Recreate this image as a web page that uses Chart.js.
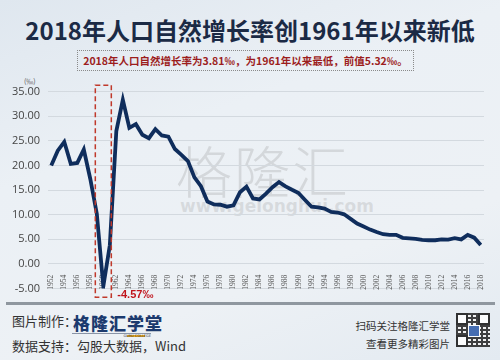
<!DOCTYPE html>
<html>
<head>
<meta charset="utf-8">
<script src="https://cdn.jsdelivr.net/npm/chart.js@4.4.0/dist/chart.umd.min.js"></script>
<style>
    body { margin: 0; }
    #page {
        position: relative; width: 500px; height: 360px; overflow: hidden;
        background: linear-gradient(160deg, #dfe7ef 0%, #ebf0f5 35%, #edf1f5 70%, #e3eaf1 100%);
        font-family: "Noto Sans CJK SC", "Noto Sans", sans-serif;
    }
    .title {
        position: absolute; top: 12px; left: 0; width: 500px; text-align: center;
        font-size: 24px; font-weight: bold; color: #1b2a45;
    }
    .sub {
        position: absolute; top: 50px; left: 77px; width: 335px; height: 19px;
        border: 1px dotted #8a8a8a; text-align: center;
        font-size: 10.5px; line-height: 19px; color: #9c1d1d; font-weight: bold;
    }
    .unit { position: absolute; top: 76px; left: 24px; font-size: 7px; color: #555; }
    .wm { position: absolute; left: 176px; top: 128px; font-size: 56px; color: rgba(150,150,150,0.28); font-weight: 300; letter-spacing: 2px; }
    .wm2 { position: absolute; left: 180px; top: 196px; font-size: 17px; color: rgba(150,150,150,0.25); font-family: "DejaVu Sans", sans-serif; font-weight: bold; }
    #wrap { position: absolute; left: 0; top: 77px; width: 496px; height: 226px; }
    .rule { position: absolute; left: 6px; top: 302px; width: 489px; height: 3px; background: #8f979f; }
    .foot { position: absolute; font-size: 13px; color: #333; }
    .logo { position: absolute; left: 73px; top: 310px; font-size: 17px; font-weight: 900; color: #1c3a6e; letter-spacing: 1px; }
    .logo em { font-style: normal; border-bottom: 2px solid #e7a81f; }
    .guru { position: absolute; left: 72px; top: 333px; width: 79px; border-top: 1px solid #8a94a6; font-size: 3.5px; text-align: right; color: #334; font-family: "DejaVu Sans"; }
    .rt { position: absolute; right: 50px; font-size: 10.5px; color: #333; text-align: right; }
    .qr { position: absolute; left: 456px; top: 313px; width: 34px; height: 34px;
        background:
            repeating-linear-gradient(90deg, #222 0 2px, transparent 2px 5px),
            repeating-linear-gradient(0deg, #222 0 2px, #f2f2f2 2px 4px);
        opacity: 0.85; }
    .qr i { position: absolute; width: 8px; height: 8px; border: 2px solid #111; background: #fff; }
    .qr b { position: absolute; left: 12px; top: 12px; width: 10px; height: 10px; background: #2a58a8; border: 1px solid #fff; }
</style>
</head>
<body>
<div id="page">
    <div class="title">2018年人口自然增长率创1961年以来新低</div>
    <div class="sub">2018年人口自然增长率为3.81‰，为1961年以来最低，前值5.32‰。</div>
    <div class="wm">格隆汇</div>
    <div class="wm2">www.gelonghui.com</div>
    <div class="unit">(‰)</div>
    <div id="wrap"><canvas id="chart"></canvas></div>
    <div class="rule"></div>
    <div class="foot" style="left:12px;top:311px;">图片制作：</div>
    <div class="logo">格隆汇<em>学</em>堂</div>
    <div class="guru">GURU COLLEGE</div>
    <div class="foot" style="left:12px;top:336px;">数据支持：勾股大数据，Wind</div>
    <div class="rt" style="top:318px;">扫码关注格隆汇学堂</div>
    <div class="rt" style="top:336px;">查看更多精彩图片</div>
    <div class="qr"><i style="left:0;top:0"></i><i style="right:0;top:0"></i><i style="left:0;bottom:0"></i><b></b></div>
</div>
<script>
// natural growth rate, per mille
const years = [];
for (let y = 1952; y <= 2018; y++) years.push(String(y));

const growthRate = [
    20.00, 23.00, 24.79, 20.32, 20.50, 23.23, 17.24, 10.19, -4.57, 3.78,
    26.99, 33.33, 27.64, 28.38, 26.22, 25.53, 27.38, 26.08, 25.83, 23.33,
    22.16, 20.89, 17.57, 15.77, 12.66, 12.06, 12.00, 11.61, 11.87, 14.55,
    15.68, 13.29, 13.08, 14.26, 15.57, 16.61, 15.73, 15.04, 14.39, 12.98,
    11.60, 11.45, 11.21, 10.55, 10.42, 10.06, 9.14, 8.18, 7.58, 6.95,
    6.45, 6.01, 5.87, 5.89, 5.28, 5.17, 5.08, 4.87, 4.79, 4.79,
    4.95, 4.92, 5.21, 4.96, 5.86, 5.32, 3.81
];

const yTicks = [-5, 0, 5, 10, 15, 20, 25, 30, 35];
const lowYear = '1960';
const lowLabel = '-4.57‰';

const highlightBox = {
    id: 'highlightBox',
    afterDatasetsDraw(chart) {
        const { ctx, scales: { x, y } } = chart;
        const cx = x.getPixelForValue(years.indexOf(lowYear));
        const top = y.getPixelForValue(36.3);
        const bottom = y.getPixelForValue(-6.8);
        ctx.save();
        ctx.strokeStyle = '#c0392b';
        ctx.lineWidth = 1.5;
        ctx.setLineDash([5, 3]);
        ctx.strokeRect(cx - 8, top, 16, bottom - top);
        ctx.setLineDash([]);
        ctx.fillStyle = '#c0141c';
        ctx.font = 'bold 11px "Liberation Sans", sans-serif';
        ctx.textBaseline = 'middle';
        ctx.fillText(lowLabel, cx + 14, bottom - 2);
        ctx.restore();
    }
};

new Chart(document.getElementById('chart'), {
    type: 'line',
    data: {
        labels: years,
        datasets: [{
            data: growthRate,
            borderColor: '#0f2d5c',
            borderWidth: 3.8,
            pointRadius: 0,
            tension: 0,
            borderJoinStyle: 'miter'
        }]
    },
    options: {
        responsive: true,
        maintainAspectRatio: false,
        animation: false,
        layout: { padding: { top: 5, bottom: 11, right: 12 } },
        plugins: { legend: { display: false }, tooltip: { enabled: false } },
        scales: {
            x: {
                position: { y: 0 },
                offset: true,
                grid: { display: false },
                border: { display: false },
                ticks: {
                    autoSkip: false, maxRotation: 90, minRotation: 90,
                    font: { size: 7.5, family: '"Liberation Serif", serif' }, color: '#555',
                    padding: 3,
                    callback: (v, i) => (i % 2 === 0 ? years[i] : '')
                }
            },
            y: {
                min: -5, max: 35,
                afterBuildTicks: (s) => { s.ticks = yTicks.map(v => ({ value: v })); },
                afterFit: (s) => { s.width = 48; },
                grid: { color: '#d3d9df', drawTicks: false },
                border: { display: false },
                ticks: {
                    padding: 8,
                    font: { size: 11, family: '"Open Sans", sans-serif' }, color: '#444',
                    callback: v => v.toFixed(2)
                }
            }
        }
    },
    plugins: [highlightBox]
});
</script>
</body>
</html>
